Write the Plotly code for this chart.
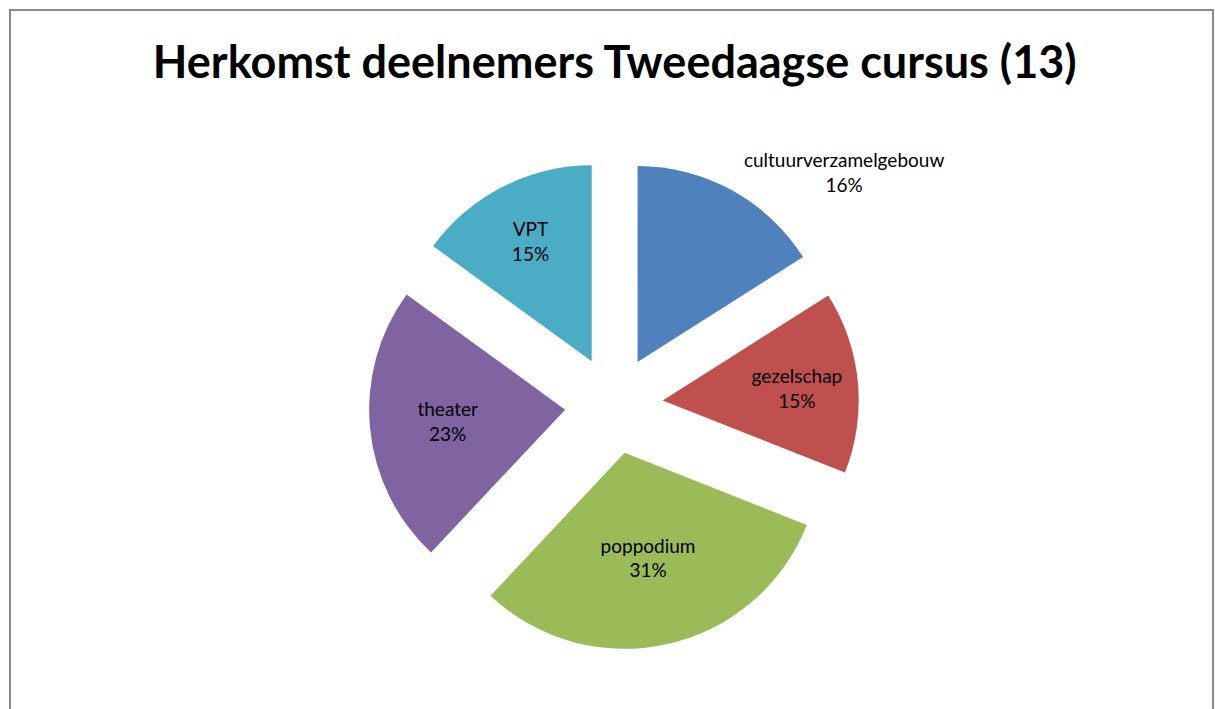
import plotly.graph_objects as go

categories = ["cultuurverzamelgebouw", "gezelschap", "poppodium", "theater", "VPT"]
percentages = [16, 15, 31, 23, 15]
colors = ["#4F81BD", "#C0504D", "#9BBB59", "#8064A2", "#4BACC6"]
text_positions = ["outside", "inside", "inside", "inside", "inside"]

W, H = 1215, 709

fig = go.Figure(
    go.Pie(
        labels=categories,
        values=percentages,
        sort=False,
        direction="clockwise",
        rotation=0,
        pull=[0.25] * len(categories),
        marker=dict(colors=colors, line=dict(width=0)),
        texttemplate="%{label}<br>%{percent:.0%}",
        textposition=text_positions,
        insidetextorientation="horizontal",
        insidetextfont=dict(color="black", size=19, family="Lato"),
        outsidetextfont=dict(color="black", size=19, family="Lato"),
        showlegend=False,
        automargin=False,
        hoverinfo="label+percent",
        domain=dict(x=[0.1053, 0.9053], y=[0.0832, 0.7743]),
    )
)

fig.update_layout(
    width=W,
    height=H,
    autosize=False,
    margin=dict(l=0, r=0, t=0, b=0, pad=0, autoexpand=False),
    paper_bgcolor="white",
    plot_bgcolor="white",
    font=dict(family="Lato", color="black"),
    title=dict(
        text="<b>Herkomst deelnemers Tweedaagse cursus (13)</b>",
        x=0.506,
        xanchor="center",
        y=1 - 62 / H,
        yanchor="middle",
        font=dict(size=45, family="Lato", color="black"),
    ),
    shapes=[
        dict(
            type="rect",
            xref="paper",
            yref="paper",
            x0=10 / W,
            x1=1213 / W,
            y0=-0.1,
            y1=1 - 10 / H,
            line=dict(color="#898989", width=2),
            fillcolor="rgba(0,0,0,0)",
        )
    ],
)

fig.write_html(
    "out.html",
    config={"displayModeBar": False},
    post_script="document.body.style.margin='0';document.body.style.overflow='hidden';",
)
